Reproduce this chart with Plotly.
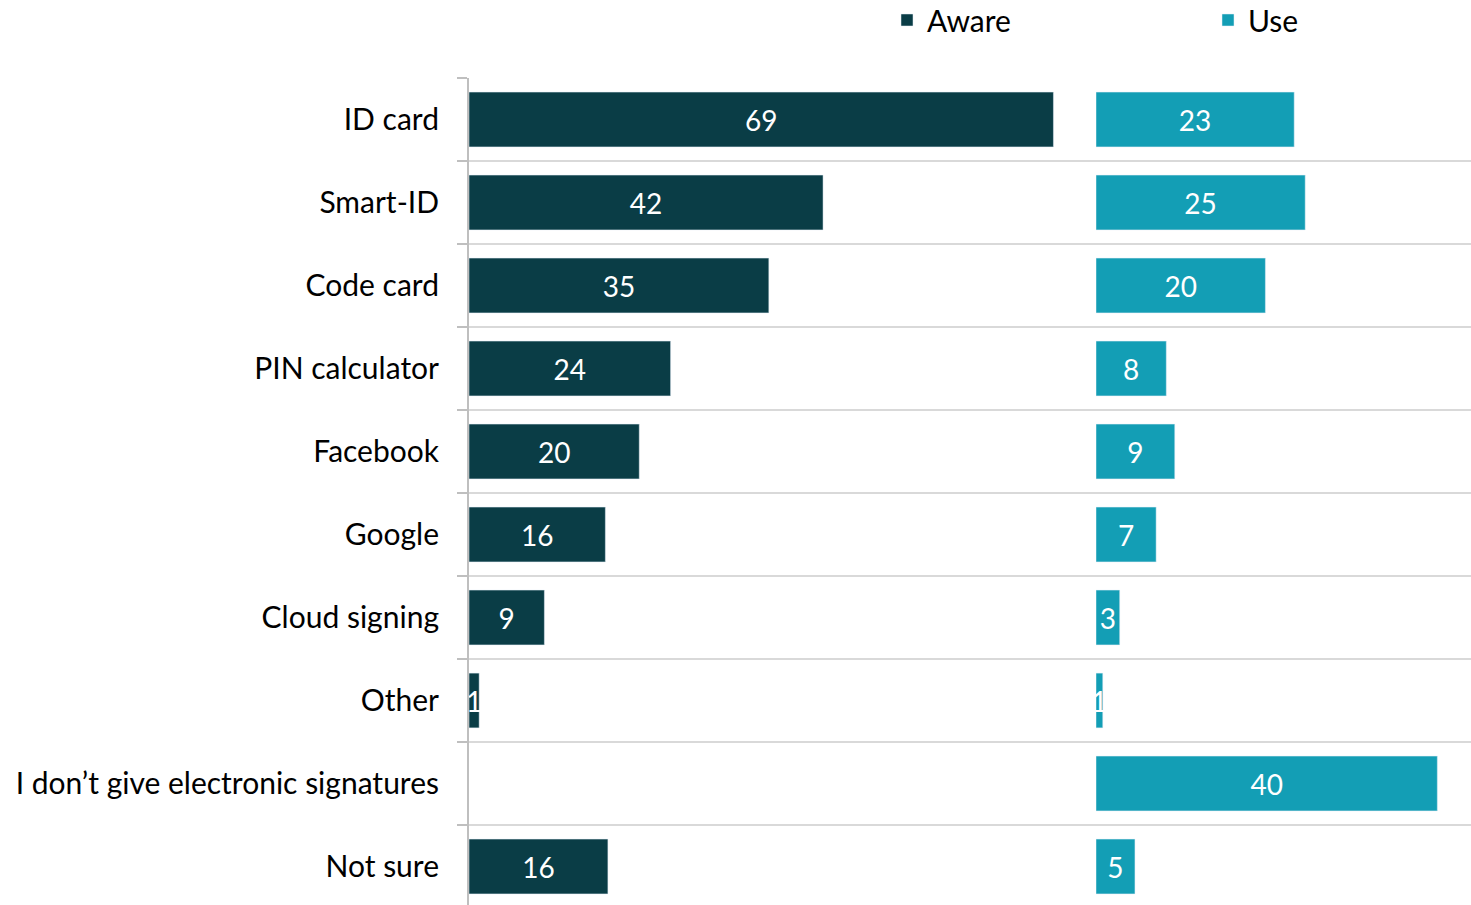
import plotly.graph_objects as go

categories = ["ID card", "Smart-ID", "Code card", "PIN calculator", "Facebook", "Google",
              "Cloud signing", "Other", "I don’t give electronic signatures", "Not sure"]
aware = [69.0, 41.8, 35.4, 23.8, 20.1, 16.1, 8.9, 1.2, None, 16.4]
use = [23.4, 24.7, 20.0, 8.3, 9.3, 7.1, 2.8, 0.8, 40.3, 4.6]

AWARE_C = "#0a3d46"
USE_C = "#139eb5"
FONT = "Lato"

fig = go.Figure()
fig.add_trace(go.Bar(
    y=categories, x=aware, orientation="h", name="Aware", marker_color=AWARE_C,
    width=0.66, xaxis="x", yaxis="y", legend="legend", showlegend=True,
    texttemplate="%{x:.0f}", textposition="inside", insidetextanchor="middle",
    constraintext="none", textangle=0,
    textfont=dict(family=FONT, size=28, color="white"),
))
fig.add_trace(go.Bar(
    y=categories, x=use, orientation="h", name="Use", marker_color=USE_C,
    width=0.66, xaxis="x2", yaxis="y2", legend="legend2", showlegend=True,
    texttemplate="%{x:.0f}", textposition="inside", insidetextanchor="middle",
    constraintext="none", textangle=0,
    textfont=dict(family=FONT, size=28, color="white"),
))

L, W, T, H = 469, 1002, 78, 827
split = (1096 - L) / W
px_per_unit = 8.47
yrange = [-0.5 + H / 83, -0.5]

def px_x(p):
    return (p - L) / W

legend_y = 1 + (T - 20) / H

fig.update_layout(
    width=1471, height=905,
    margin=dict(l=L, r=0, t=T, b=0, autoexpand=False),
    paper_bgcolor="white", plot_bgcolor="white",
    font=dict(family=FONT, size=30, color="#000000"),
    showlegend=True,
    xaxis=dict(domain=[0, split], range=[0, 627 / px_per_unit], visible=False, fixedrange=True),
    xaxis2=dict(domain=[split, 1], range=[0, 375 / px_per_unit], visible=False, anchor="y2"),
    yaxis=dict(
        type="category", categoryorder="array", categoryarray=categories,
        range=yrange, tickson="boundaries", ticks="outside", ticklen=10,
        tickcolor="#bfbfbf", tickwidth=2, showline=True, linecolor="#bfbfbf", linewidth=2,
        showgrid=True, gridcolor="#d9d9d9", gridwidth=2, anchor="x",
        ticklabelstandoff=22, tickfont=dict(family=FONT, size=30, color="#000000"),
    ),
    yaxis2=dict(
        type="category", categoryorder="array", categoryarray=categories,
        range=yrange, tickson="boundaries", ticks="", showticklabels=False,
        showline=False, showgrid=True, gridcolor="#d9d9d9", gridwidth=2,
        anchor="x2", matches="y",
    ),
    legend=dict(orientation="h", x=px_x(887), xanchor="left",
                y=legend_y, yanchor="middle", font=dict(family=FONT, size=30),
                bgcolor="rgba(0,0,0,0)"),
    legend2=dict(orientation="h", x=px_x(1208), xanchor="left",
                 y=legend_y, yanchor="middle", font=dict(family=FONT, size=30),
                 bgcolor="rgba(0,0,0,0)"),
)

fig.write_html("out.html", config={"displayModeBar": False},
               post_script="document.body.style.margin='0';")
